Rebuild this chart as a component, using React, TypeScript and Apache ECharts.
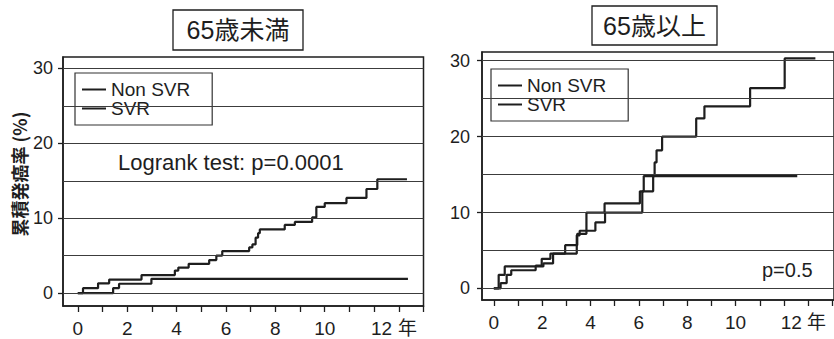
import React, { useEffect, useRef } from 'react';
import * as echarts from 'echarts';

// ---- data ----
const leftNonSvrYears = [0, 0.21, 0.82, 1.27, 2.58, 3.93, 4.07, 4.49, 5.32, 5.61, 5.85, 6.94, 7.07, 7.2, 7.3, 7.37, 8.38, 8.79, 9.49, 9.66, 10.0, 10.88, 11.69, 12.13, 13.33];
const leftNonSvrRates = [0, 0.65, 1.3, 1.8, 2.4, 3.0, 3.4, 3.9, 4.4, 5.0, 5.6, 6.1, 6.5, 7.4, 8.0, 8.5, 9.1, 9.5, 10.1, 11.5, 12.0, 12.7, 13.9, 15.2, 15.2];
const leftSvrYears = [0, 1.43, 1.67, 2.98, 13.37];
const leftSvrRates = [0, 0.67, 1.24, 1.9, 1.9];

const rightNonSvrYears = [0, 0.28, 0.53, 0.72, 1.73, 1.98, 2.34, 3.43, 3.55, 4.2, 4.6, 6.14, 6.59, 6.65, 6.73, 6.96, 8.37, 8.71, 10.6, 12.03, 13.3];
const rightNonSvrRates = [0, 0.7, 1.8, 2.4, 3.0, 3.9, 4.6, 7.0, 7.6, 8.7, 10.0, 12.8, 14.8, 16.6, 18.2, 20.0, 22.4, 24.0, 26.4, 30.3, 30.3];
const rightSvrYears = [0, 0.2, 0.45, 2.05, 2.45, 2.95, 3.45, 3.83, 4.58, 6.04, 6.2, 12.55];
const rightSvrRates = [0, 1.8, 2.9, 3.3, 4.6, 5.7, 7.2, 10.0, 11.2, 12.8, 14.8, 14.8];

const seriesNames = ['Non SVR', 'SVR'];
const panelTitles = ['65歳未満', '65歳以上'];
const yAxisTitle = '累積発癌率 (%)';
const leftNote = 'Logrank test: p=0.0001';
const rightNote = 'p=0.5';
const gridLevels = [0, 5, 10, 15, 20, 25, 30];
const xTickValues = [0, 1, 2, 3, 4, 5, 6, 7, 8, 9, 10, 11, 12, 13, 14];
// label anchors: even years, then "12" and the unit drawn slightly right of their ticks as in the source
const xLabelValues = [0, 2, 4, 6, 8, 10, 12.3, 13.35];
const yTickValues = [0, 10, 20, 30];
const yearUnit = '年';

const INK = '#1e1e1e';
const GRIDC = '#3c3c3c';
const FONT = '"Liberation Sans", Arial, "Noto Sans CJK JP", sans-serif';
const CJK = '"Noto Sans CJK JP", "Liberation Sans", sans-serif';

const pairs = (xs: number[], ys: number[]) => xs.map((x, i) => [x, ys[i]]);

function xAxisFor(gridIndex: number, min: number, max: number) {
  return {
    type: 'value',
    gridIndex,
    min,
    max,
    axisLine: { show: true, onZero: false, lineStyle: { color: INK, width: 1.5 } },
    axisTick: { show: true, customValues: xTickValues, length: 6, lineStyle: { color: INK, width: 1.3 } },
    axisLabel: {
      customValues: xLabelValues,
      margin: 13,
      fontSize: 19,
      color: INK,
      fontFamily: FONT,
      formatter: (v: number) => (v > 13 ? yearUnit : v > 12 ? '12' : String(v)),
    },
    splitLine: { show: false },
  };
}

function yAxisFor(gridIndex: number, min: number, max: number, margin: number) {
  return {
    type: 'value',
    gridIndex,
    min,
    max,
    axisLine: { show: true, onZero: false, lineStyle: { color: INK, width: 1.5 } },
    axisTick: { show: true, customValues: yTickValues, length: 5, lineStyle: { color: INK, width: 1.3 } },
    axisLabel: { customValues: yTickValues, margin, fontSize: 18, color: INK, fontFamily: FONT },
    splitLine: { show: false },
  };
}

function stepSeries(name: string, idx: number, data: number[][], withGrid: boolean) {
  const s: any = {
    name,
    type: 'line',
    xAxisIndex: idx,
    yAxisIndex: idx,
    step: 'end',
    symbol: 'none',
    data,
    lineStyle: { color: INK, width: 2.2 },
    itemStyle: { color: INK },
    emphasis: { disabled: true },
  };
  if (withGrid) {
    s.markLine = {
      silent: true,
      symbol: ['none', 'none'],
      label: { show: false },
      lineStyle: { color: GRIDC, width: 1.2, type: 'solid' },
      emphasis: { disabled: true },
      data: gridLevels.map((v) => ({ yAxis: v })),
    };
  }
  return s;
}

function legendAt(left: number, top: number) {
  return {
    data: seriesNames,
    orient: 'vertical',
    left,
    top,
    padding: [7, 22, 7, 7],
    itemGap: 0,
    itemWidth: 24,
    itemHeight: 2,
    icon: 'rect',
    borderColor: '#333',
    borderWidth: 1.2,
    selectedMode: false,
    itemStyle: { color: INK },
    textStyle: { fontSize: 19, color: INK, fontFamily: FONT },
  };
}

export default function App() {
  const ref = useRef<HTMLDivElement>(null);
  useEffect(() => {
    if (!ref.current) return;
    const chart = echarts.init(ref.current, null, { renderer: 'svg' });
    chart.setOption({
      animation: false,
      backgroundColor: '#ffffff',
      grid: [
        { left: 63, top: 57, width: 360.5, height: 249, show: true, borderColor: INK, borderWidth: 1.5, backgroundColor: 'transparent' },
        { left: 482, top: 52, width: 358, height: 248, show: true, borderColor: INK, borderWidth: 1.5, backgroundColor: 'transparent' },
      ],
      xAxis: [xAxisFor(0, -0.6, 14), xAxisFor(1, -0.49, 14.07)],
      yAxis: [yAxisFor(0, -1.73, 31.53, 10), yAxisFor(1, -1.52, 31.15, 12)],
      legend: [legendAt(75, 73), legendAt(491, 69)],
      series: [
        stepSeries(seriesNames[0], 0, pairs(leftNonSvrYears, leftNonSvrRates), true),
        stepSeries(seriesNames[1], 0, pairs(leftSvrYears, leftSvrRates), false),
        stepSeries(seriesNames[0], 1, pairs(rightNonSvrYears, rightNonSvrRates), true),
        stepSeries(seriesNames[1], 1, pairs(rightSvrYears, rightSvrRates), false),
      ],
      graphic: [
        { type: 'rect', shape: { x: 173, y: 10, width: 130, height: 40 }, style: { fill: 'none', stroke: INK, lineWidth: 1.3 } },
        { type: 'text', x: 238, y: 30, style: { text: panelTitles[0], fontSize: 25, fill: INK, fontFamily: FONT, align: 'center', verticalAlign: 'middle' } },
        { type: 'rect', shape: { x: 592, y: 6, width: 125, height: 39 }, style: { fill: 'none', stroke: INK, lineWidth: 1.3 } },
        { type: 'text', x: 654.5, y: 26, style: { text: panelTitles[1], fontSize: 25, fill: INK, fontFamily: FONT, align: 'center', verticalAlign: 'middle' } },
        { type: 'text', x: 19, y: 174, rotation: Math.PI / 2, style: { text: yAxisTitle, fontSize: 18, fontWeight: 'bold', fill: INK, fontFamily: CJK, align: 'center', verticalAlign: 'middle' } },
        { type: 'text', x: 118, y: 162, style: { text: leftNote, fontSize: 22, fill: INK, fontFamily: FONT, align: 'left', verticalAlign: 'middle' } },
        { type: 'text', x: 762, y: 270, style: { text: rightNote, fontSize: 20, fill: INK, fontFamily: FONT, align: 'left', verticalAlign: 'middle' } },
      ],
    });
    return () => chart.dispose();
  }, []);
  return <div ref={ref} style={{ position: 'fixed', left: 0, top: 0, width: 834, height: 339, background: '#fff' }} />;
}
